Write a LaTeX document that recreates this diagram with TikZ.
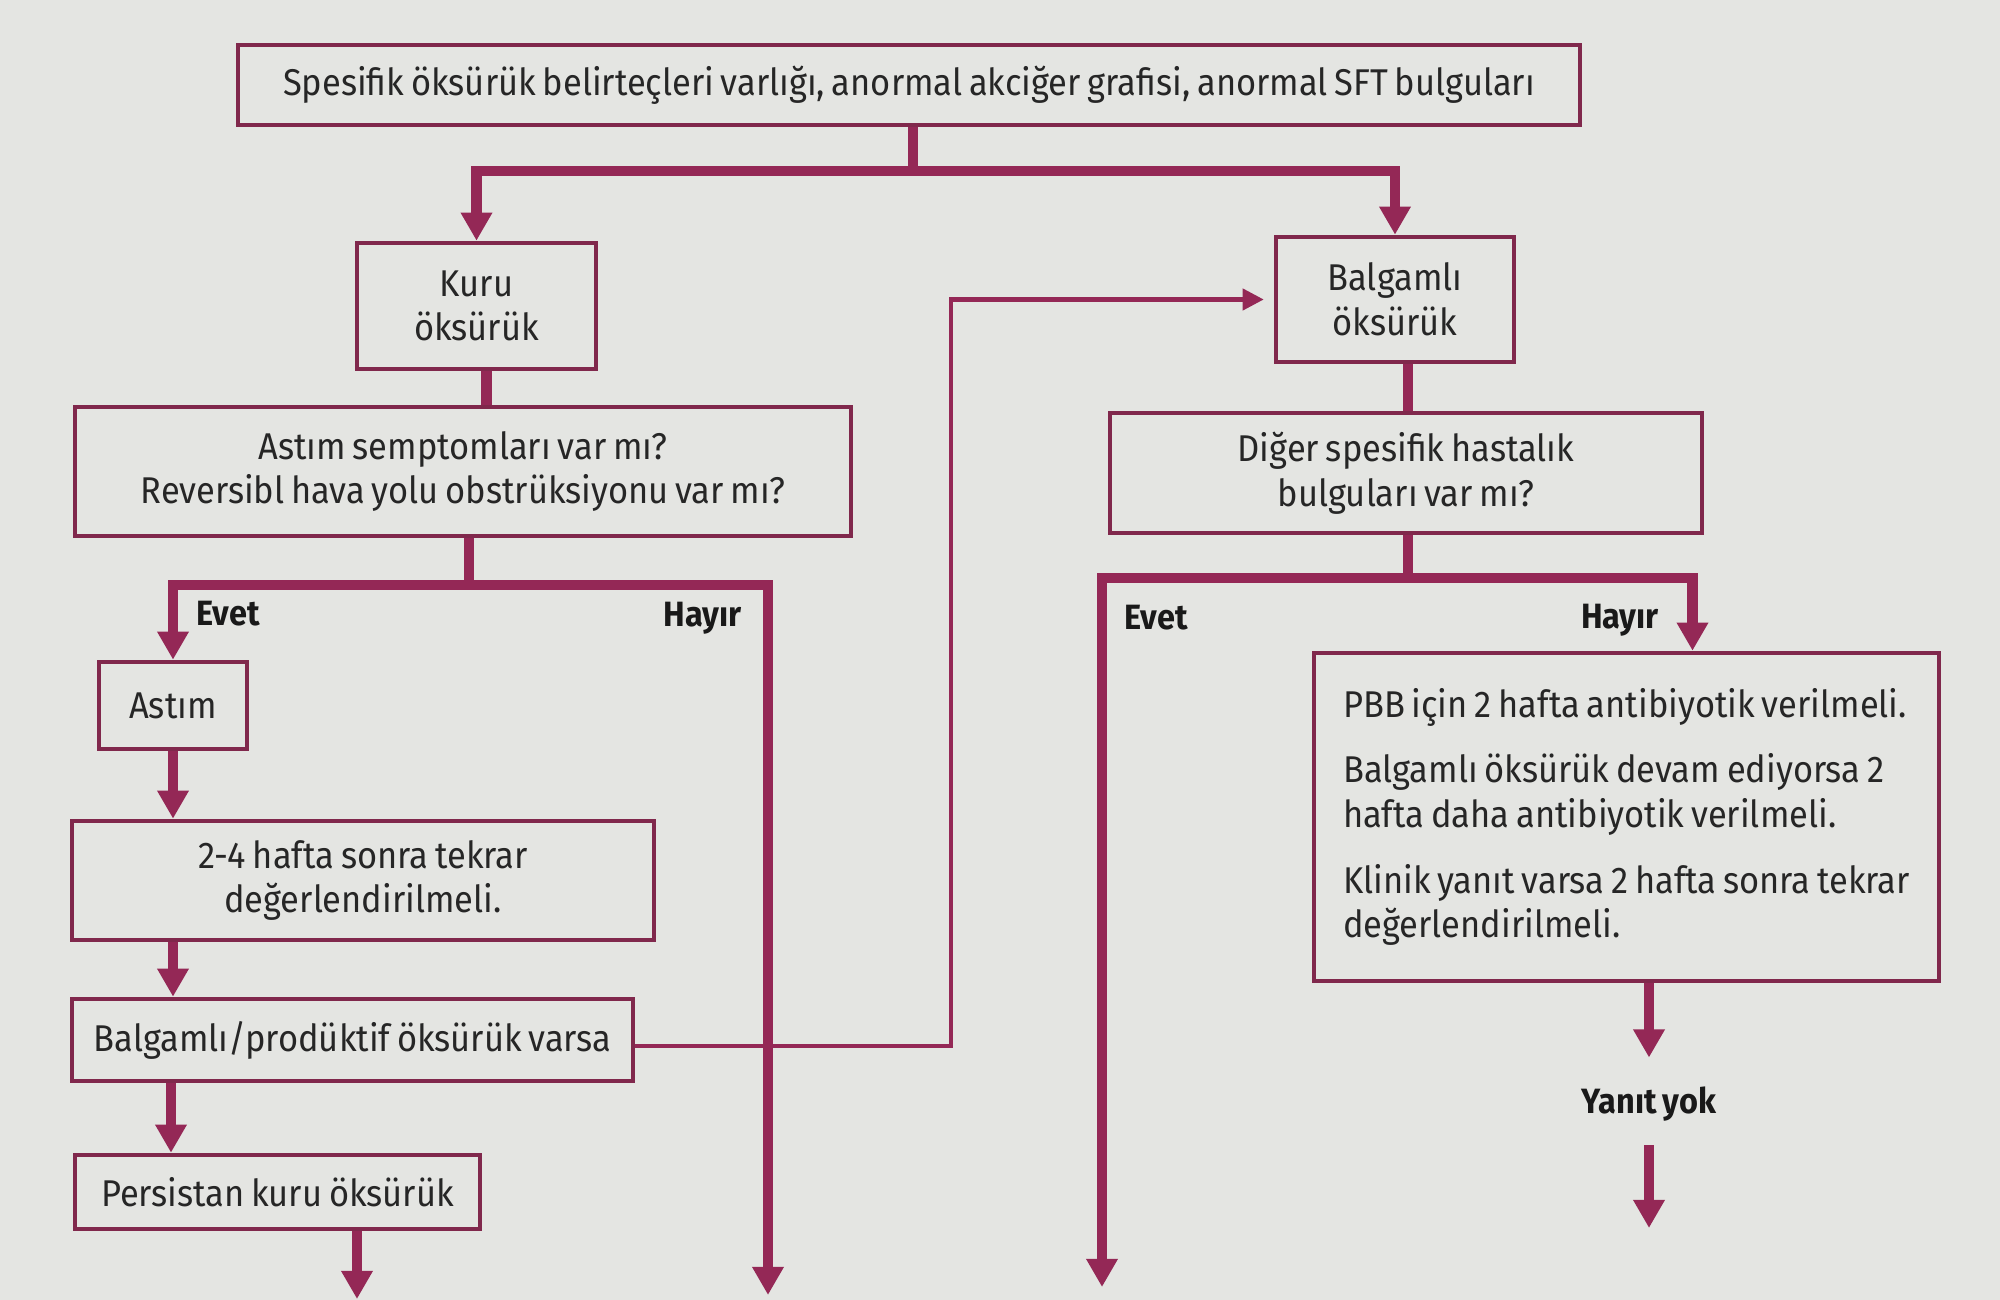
\documentclass[tikz,border=0pt]{standalone}
\usepackage{fontspec}
\setmainfont{Fira Sans}[FakeStretch=0.925,WordSpace=0.75]
\usetikzlibrary{arrows.meta}
\definecolor{paper}{RGB}{228,229,226}
\definecolor{crim}{RGB}{148,40,86}
\definecolor{boxline}{RGB}{128,40,76}
\tikzset{
  box/.style={draw=boxline,line width=1.3pt,inner sep=0pt,align=center,text=black!85},
  thickln/.style={draw=crim,line width=3.1pt},
  thickarr/.style={thickln,-{Triangle[width=8.5pt,length=8pt]}},
  thinarr/.style={draw=crim,line width=1.2pt,-{Triangle[width=6pt,length=6pt]}},
  lbl/.style={font=\bfseries,text=black!90,inner sep=1pt}
}
\begin{document}
\begin{tikzpicture}[font=\fontsize{10.6}{12.7}\selectfont]
    \fill[paper] (0,0) rectangle (20,-13);
    \useasboundingbox (0,0) rectangle (20,-13);

    \node[box,minimum width=13.42cm,minimum height=0.8cm] (top) at (9.09,-0.85)
      {Spesifik öksürük belirteçleri varlığı, anormal akciğer grafisi, anormal SFT bulguları};
    \node[box,minimum width=2.39cm,minimum height=1.26cm] (kuru) at (4.765,-3.06) {Kuru\\öksürük};
    \node[box,minimum width=7.76cm,minimum height=1.29cm] (astsem) at (4.63,-4.715)
      {Astım semptomları var mı?\\Reversibl hava yolu obstrüksiyonu var mı?};
    \node[box,minimum width=1.48cm,minimum height=0.87cm] (astim) at (1.73,-7.055) {Astım};
    \node[box,minimum width=5.82cm,minimum height=1.19cm] (tekrar) at (3.63,-8.805)
      {2-4 hafta sonra tekrar\\değerlendirilmeli.};
    \node[box,minimum width=5.61cm,minimum height=0.82cm] (prod) at (3.525,-10.40)
      {Balgamlı/prodüktif öksürük varsa};
    \node[box,minimum width=4.05cm,minimum height=0.74cm] (pers) at (2.775,-11.92)
      {Persistan kuru öksürük};
    \node[box,minimum width=2.38cm,minimum height=1.25cm] (balg) at (13.95,-2.995) {Balgamlı\\öksürük};
    \node[box,minimum width=5.92cm,minimum height=1.20cm] (diger) at (14.06,-4.73)
      {Diğer spesifik hastalık\\bulguları var mı?};
    \node[box,minimum width=6.25cm,minimum height=3.28cm,align=left] (pbb) at (16.265,-8.17)
      {PBB için 2 hafta antibiyotik verilmeli.\\[6pt]
       Balgamlı öksürük devam ediyorsa 2\\hafta daha antibiyotik verilmeli.\\[6pt]
       Klinik yanıt varsa 2 hafta sonra tekrar\\değerlendirilmeli.};

    \node[lbl] (evet1) at (2.28,-6.14) {Evet};
    \node[lbl] (hayir1) at (7.03,-6.18) {Hayır};
    \node[lbl] (evet2) at (11.56,-6.18) {Evet};
    \node[lbl] (hayir2) at (16.20,-6.20) {Hayır};
    \node[lbl] (yanit) at (16.49,-11.04) {Yanıt yok};

    \coordinate (j1) at (9.13,-1.71);
    \coordinate (j2) at (4.69,-5.85);
    \coordinate (j3) at (14.08,-5.78);
    \coordinate (endhayir1) at (7.68,-12.95);
    \coordinate (endpers) at (3.57,-12.99);
    \coordinate (endevet2) at (11.02,-12.87);
    \coordinate (endyanit) at (16.49,-12.28);
    \coordinate (bend1) at (9.51,-10.46);

    \draw[thickln] (top.south -| j1) -- (j1);
    \draw[thickarr] (j1) -| (kuru.north);
    \draw[thickarr] (j1) -| (balg.north);
    \draw[thickln] ([xshift=1mm]kuru.south) -- ([xshift=1mm]kuru.south |- astsem.north);
    \draw[thickln] (astsem.south -| j2) -- (j2);
    \draw[thickarr] (j2) -| (astim.north);
    \draw[thickarr] (j2) -| (endhayir1);
    \draw[thickarr] (astim.south) -- (tekrar.north -| astim.south);
    \draw[thickarr] (tekrar.south -| astim.south) -- (prod.north -| astim.south);
    \draw[thickarr] ([xshift=-0.2mm]prod.south -| astim.south) -- ([xshift=-0.2mm]pers.north -| astim.south);
    \draw[thickarr] (pers.south -| endpers) -- (endpers);
    \draw[thinarr,shorten >=1mm] (prod.east |- bend1) -- (bend1) |- (balg.west);
    \draw[thickln] (balg.south -| j3) -- (diger.north -| j3);
    \draw[thickln] (diger.south -| j3) -- (j3);
    \draw[thickarr] (j3) -| (endevet2);
    \draw[thickarr] (j3) -| ([xshift=0.66cm]pbb.north);
    \draw[thickarr,shorten >=2.5mm] (pbb.south -| yanit) -- (yanit.north);
    \draw[thickarr,shorten <=2mm] (yanit.south) -- (endyanit);
\end{tikzpicture}
\end{document}
